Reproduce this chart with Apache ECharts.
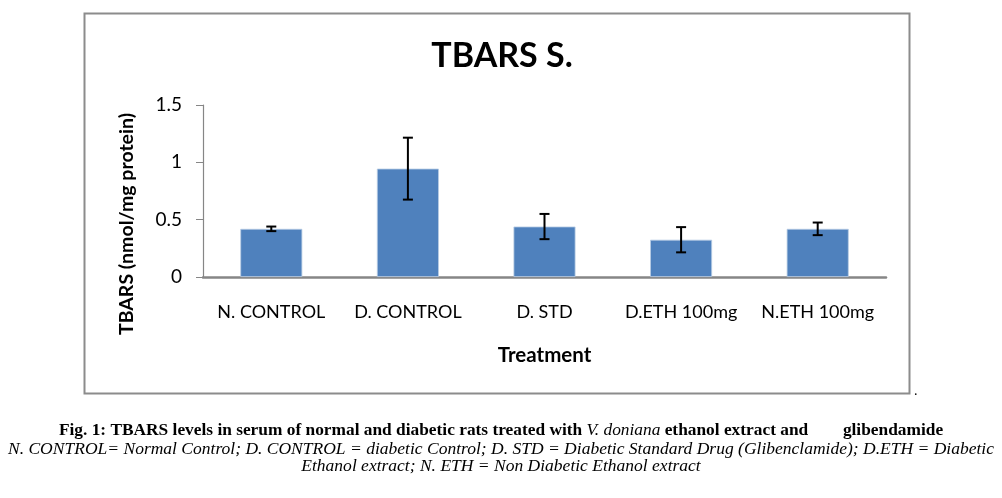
<!DOCTYPE html>
<html>
<head>
<meta charset="utf-8">
<script src="https://cdn.jsdelivr.net/npm/echarts@6/dist/echarts.min.js"></script>
<style>
html,body{margin:0;padding:0;background:#fff;}
#c{width:1002px;height:498px;}
</style>
</head>
<body>
<div id="c"></div>
<script>
var categories = ['N. CONTROL', 'D. CONTROL', 'D. STD', 'D.ETH 100mg', 'N.ETH 100mg'];
var values = [0.42, 0.945, 0.44, 0.325, 0.42];
var errors = [0.02, 0.27, 0.11, 0.11, 0.055];
var yTicks = { min: 0, max: 1.5, interval: 0.5 };

var errData = values.map(function (v, i) { return [i, v - errors[i], v + errors[i]]; });

var chart = echarts.init(document.getElementById('c'));
var option = {
  animation: false,
  backgroundColor: '#fff',
  title: {
    text: 'TBARS S.',
    left: 497, top: 34, textAlign: 'center',
    textStyle: { fontFamily: 'Lato', fontWeight: 'bold', fontSize: 34, color: '#000' }
  },
  grid: { left: 203, right: 116, top: 105, bottom: 221, containLabel: false },
  xAxis: {
    type: 'category',
    data: categories,
    name: 'Treatment',
    nameLocation: 'middle',
    nameGap: 68,
    nameTextStyle: { fontFamily: 'Lato', fontWeight: 'bold', fontSize: 20.5, color: '#000' },
    axisLine: { lineStyle: { color: '#868686', width: 2.5 } },
    axisTick: { show: false },
    axisLabel: { fontFamily: 'Lato', fontSize: 18, color: '#000', margin: 26, interval: 0 }
  },
  yAxis: {
    type: 'value',
    min: yTicks.min, max: yTicks.max, interval: yTicks.interval,
    axisLine: { show: true, lineStyle: { color: '#868686', width: 1.2 } },
    axisTick: { show: true, length: 7, lineStyle: { color: '#868686' } },
    splitLine: { show: false },
    axisLabel: { fontFamily: 'Lato', fontSize: 19, color: '#000', margin: 21 }
  },
  series: [
    {
      type: 'bar',
      data: values,
      barWidth: 62,
      itemStyle: { color: '#4f81bd', borderColor: '#b9cde5', borderWidth: 0.8 }
    },
    {
      type: 'custom',
      data: errData,
      z: 10,
      renderItem: function (params, api) {
        var x = api.value(0);
        var lo = api.coord([x, api.value(1)]);
        var hi = api.coord([x, api.value(2)]);
        var hw = 5;
        var st = { stroke: '#000', lineWidth: 2 };
        return {
          type: 'group',
          children: [
            { type: 'line', shape: { x1: hi[0], y1: hi[1], x2: lo[0], y2: lo[1] }, style: st },
            { type: 'line', shape: { x1: hi[0] - hw, y1: hi[1], x2: hi[0] + hw, y2: hi[1] }, style: st },
            { type: 'line', shape: { x1: lo[0] - hw, y1: lo[1], x2: lo[0] + hw, y2: lo[1] }, style: st }
          ]
        };
      }
    }
  ],
  graphic: [
    { type: 'rect', shape: { x: 84.5, y: 13.5, width: 825, height: 380 }, style: { fill: 'none', stroke: '#8c8c8c', lineWidth: 2 }, z: -1 },
    { type: 'text', x: 914, y: 384, style: { text: '.', fontSize: 14, fill: '#000', fontFamily: 'Liberation Serif' } },
    {
      type: 'text', x: 127, y: 224, rotation: Math.PI / 2,
      style: {
        text: 'TBARS (nmol/mg protein)', align: 'center', verticalAlign: 'middle',
        fontFamily: 'Lato', fontWeight: 'bold', fontSize: 19.5, fill: '#000'
      }
    },
    {
      type: 'text', x: 501, y: 431, scaleX: 1.02, originX: 0,
      style: {
        text: '{b|Fig. 1: TBARS levels in serum of normal and diabetic rats treated with }{bi|V. doniana}{b| ethanol extract and        glibendamide}',
        align: 'center', verticalAlign: 'middle',
        rich: {
          b: { fontFamily: 'Liberation Serif', fontWeight: 'bold', fontSize: 17, fill: '#000' },
          bi: { fontFamily: 'Liberation Serif', fontStyle: 'italic', fontSize: 17, fill: '#000' }
        }
      }
    },
    {
      type: 'text', x: 501, y: 450, scaleX: 1.03, originX: 0,
      style: {
        text: 'N. CONTROL= Normal Control; D. CONTROL = diabetic Control; D. STD = Diabetic Standard Drug (Glibenclamide); D.ETH = Diabetic',
        align: 'center', verticalAlign: 'middle',
        fontFamily: 'Liberation Serif', fontStyle: 'italic', fontSize: 17, fill: '#000'
      }
    },
    {
      type: 'text', x: 501, y: 467, scaleX: 1.03, originX: 0,
      style: {
        text: 'Ethanol extract; N. ETH = Non Diabetic Ethanol extract',
        align: 'center', verticalAlign: 'middle',
        fontFamily: 'Liberation Serif', fontStyle: 'italic', fontSize: 17, fill: '#000'
      }
    }
  ]
};
chart.setOption(option);
</script>
</body>
</html>
